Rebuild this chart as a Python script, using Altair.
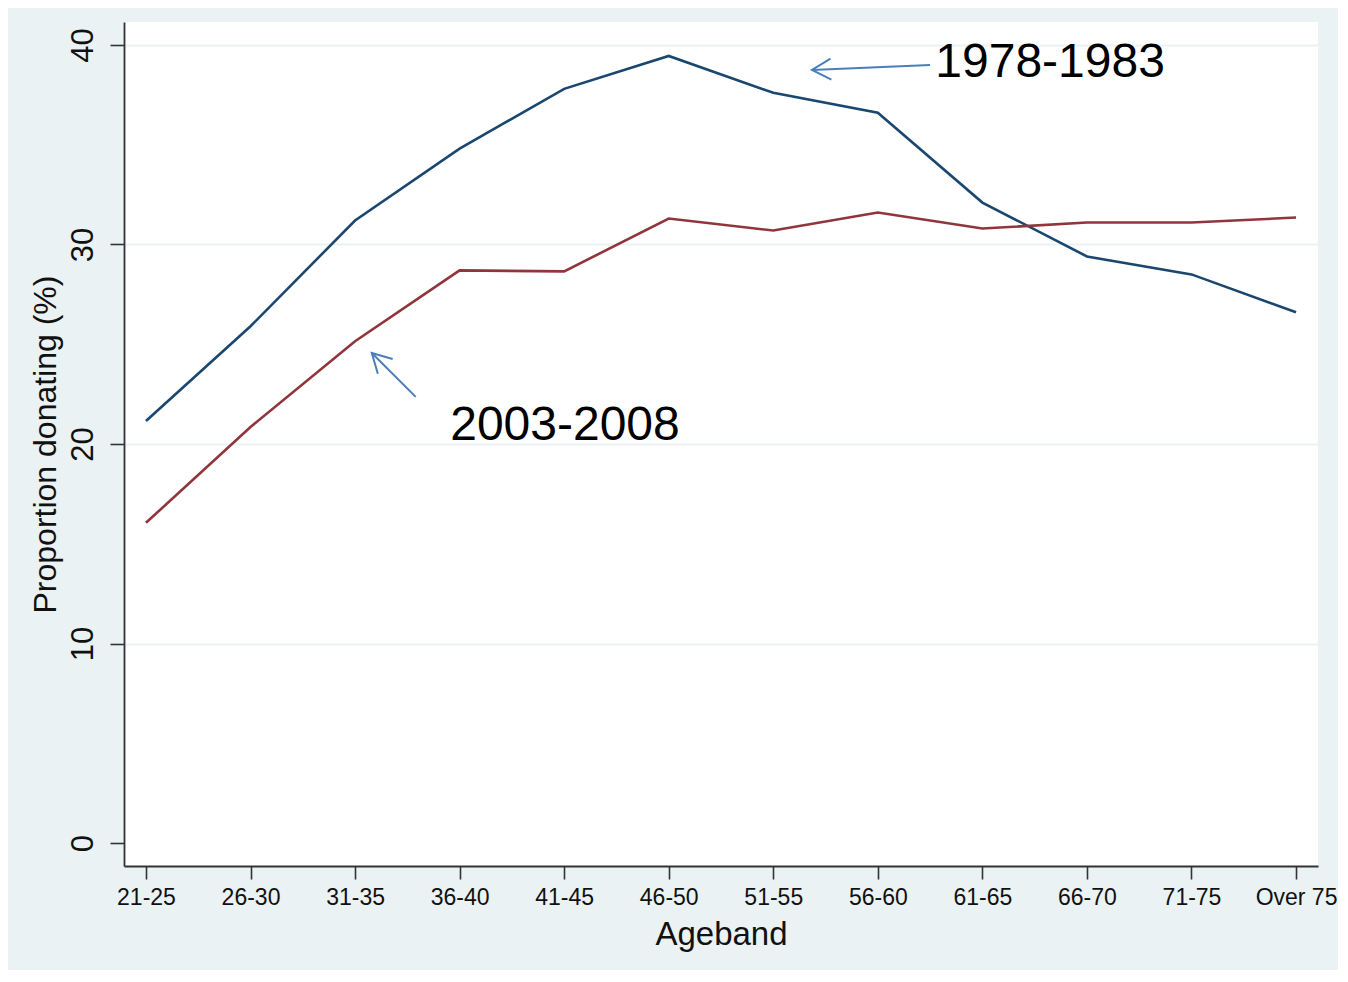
import altair as alt
import pandas as pd

age_bands = ["21-25", "26-30", "31-35", "36-40", "41-45", "46-50",
             "51-55", "56-60", "61-65", "66-70", "71-75", "Over 75"]
series_names = ["1978-1983", "2003-2008"]
vals_1978 = [21.15, 25.9, 31.2, 34.8, 37.8, 39.45, 37.6, 36.6, 32.1, 29.4, 28.5, 26.6]
vals_2003 = [16.05, 20.85, 25.15, 28.7, 28.65, 31.3, 30.7, 31.6, 30.8, 31.1, 31.1, 31.35]
y_ticks = [0, 10, 20, 30, 40]

# annotation anchors, in data units (x = ageband index, y = percent)
label_text = ["1978-1983", "2003-2008"]
label_x = [7.55, 2.91]
label_y = [38.4, 20.2]
arrow_x0 = [7.50, 2.58]
arrow_y0 = [39.0, 22.36]
arrow_x1 = [6.37, 2.16]
arrow_y1 = [38.75, 24.56]
arrow_angle = [177.6, 225.0]

NAVY = "#1a476f"
MAROON = "#90353b"
ARROW = "#4a7ebb"
BG = "#eaf2f3"

rows = []
for i, a in enumerate(age_bands):
    rows.append({"idx": i, "age": a, "series": series_names[0], "value": vals_1978[i]})
    rows.append({"idx": i, "age": a, "series": series_names[1], "value": vals_2003[i]})
df = pd.DataFrame(rows)

ann = pd.DataFrame({"text": label_text, "x": label_x, "y": label_y})
arr = pd.DataFrame({"x0": arrow_x0, "y0": arrow_y0, "x1": arrow_x1, "y1": arrow_y1,
                    "angle": arrow_angle})

label_js = "[" + ",".join('"%s"' % a for a in age_bands) + "][datum.value]"

xscale = alt.Scale(domain=[-0.21, 11.21], nice=False, zero=False)
yscale = alt.Scale(domain=[-1.15, 41.15], nice=False, zero=False)

x_axis = alt.Axis(values=list(range(len(age_bands))), labelExpr=label_js,
                  title="Ageband", grid=False, tickSize=13, tickColor="#333333",
                  tickWidth=1.6, domainColor="#333333", domainWidth=1.8,
                  labelFontSize=23, labelColor="#111111", labelPadding=7,
                  titleFontSize=33, titleFontWeight="normal", titleColor="#111111",
                  titlePadding=9)
y_axis = alt.Axis(values=y_ticks, title="Proportion donating (%)", grid=True,
                  gridColor=BG, gridWidth=2,
                  gridOpacity={"condition": {"test": "datum.value === 0", "value": 0}, "value": 1},
                  tickSize=14, tickColor="#333333", tickWidth=1.6, domainColor="#333333",
                  domainWidth=1.8, labelAngle=-90, labelFontSize=31, labelColor="#111111",
                  labelPadding=11, titleFontSize=32, titleFontWeight="normal",
                  titleColor="#111111", titlePadding=5)

lines = alt.Chart(df).mark_line(strokeWidth=2.6).encode(
    x=alt.X("idx:Q", scale=xscale, axis=x_axis),
    y=alt.Y("value:Q", scale=yscale, axis=y_axis),
    color=alt.Color("series:N", scale=alt.Scale(domain=series_names, range=[NAVY, MAROON]),
                    legend=None),
)

texts = alt.Chart(ann).mark_text(fontSize=48, align="left", baseline="alphabetic",
                                 color="#000000").encode(
    x=alt.X("x:Q", scale=xscale), y=alt.Y("y:Q", scale=yscale), text="text:N")

shafts = alt.Chart(arr).mark_rule(color=ARROW, strokeWidth=2).encode(
    x=alt.X("x0:Q", scale=xscale), y=alt.Y("y0:Q", scale=yscale),
    x2="x1:Q", y2="y1:Q")

heads = alt.Chart(arr).mark_point(shape="M -1 -0.55 L 0 0 L -1 0.55", filled=False,
                                  size=1444, color=ARROW, strokeWidth=2, opacity=1).encode(
    x=alt.X("x1:Q", scale=xscale), y=alt.Y("y1:Q", scale=yscale),
    angle=alt.Angle("angle:Q", scale=None))

chart = alt.layer(lines, shafts, heads, texts).properties(
    width=1194, height=844,
    autosize=alt.AutoSizeParams(type="none"),
    padding={"left": 116, "top": 14, "right": 20, "bottom": 104},
    background=BG,
).configure(font="Liberation Sans").configure_view(fill="white", stroke=None)

chart.save("out.html", embed_options={"renderer": "svg", "actions": False})
